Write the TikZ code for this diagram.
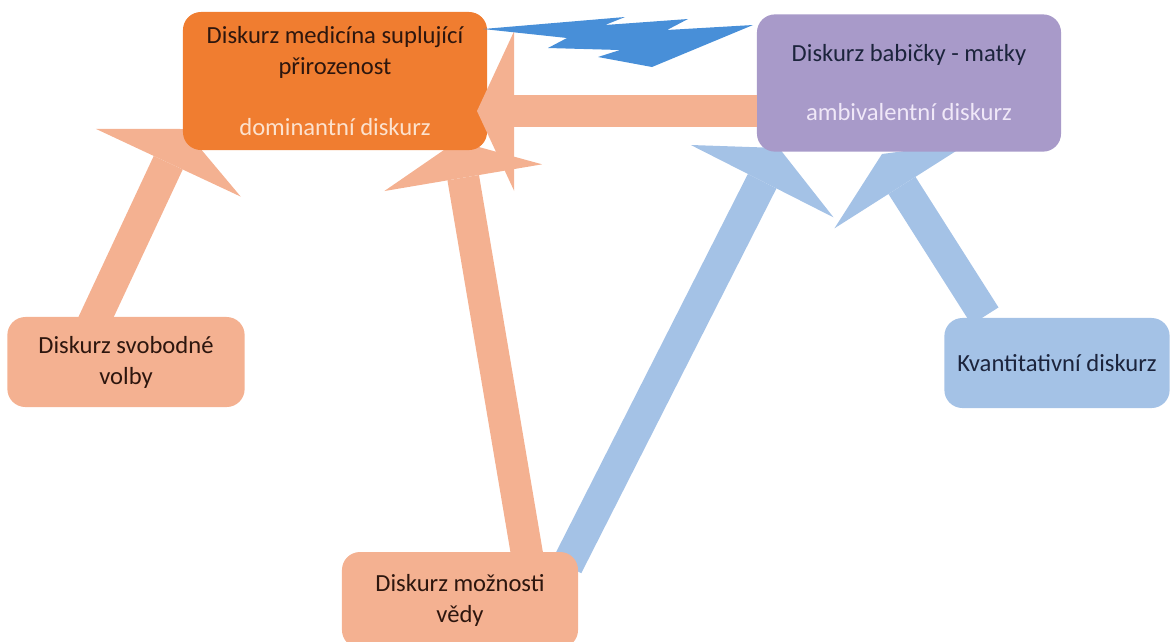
\documentclass[tikz,border=0pt]{standalone}
\usepackage{fontspec}
\setmainfont{Carlito}
\usetikzlibrary{arrows.meta,backgrounds}

\definecolor{medorange}{RGB}{240,125,48}
\definecolor{salmon}{RGB}{244,177,145}
\definecolor{lavender}{RGB}{168,154,201}
\definecolor{skyblue}{RGB}{164,194,230}
\definecolor{boltblue}{RGB}{72,143,216}
\definecolor{darktext}{RGB}{45,22,14}
\definecolor{navytext}{RGB}{28,36,60}
\definecolor{peach}{RGB}{252,226,206}
\definecolor{lilac}{RGB}{240,232,248}

\tikzset{
  box/.style={rounded corners=0.45cm,inner sep=0pt,align=center,
    font=\fontsize{17.5}{22}\selectfont,text=darktext},
  fatarrow/.style={line width=0.8cm,
    -{Triangle[width=4cm,length=0.93cm,line width=0pt]}},
}

\begin{document}
\begin{tikzpicture}[x=0.025cm,y=-0.025cm]

\useasboundingbox (0,0) rectangle (1171,641);

\node[box,fill=medorange,minimum width=7.6cm,minimum height=3.45cm] (med) at (335,81)
  {Diskurz medicína suplující\\přirozenost\\[0.73cm]\textcolor{peach}{dominantní diskurz}};
\node[box,fill=lavender,minimum width=7.6cm,minimum height=3.43cm,text=navytext] (bab) at (909,83)
  {Diskurz babičky - matky\\[0.7cm]\textcolor{lilac}{ambivalentní diskurz}};
\node[box,fill=salmon,minimum width=5.93cm,minimum height=2.25cm] (svo) at (126,362)
  {Diskurz svobodné\\volby};
\node[box,fill=skyblue,minimum width=5.63cm,minimum height=2.25cm,text=navytext] (kva) at (1057,363)
  {Kvantitativní diskurz};
\node[box,fill=salmon,minimum width=5.9cm,minimum height=2.4cm] (moz) at (460,600)
  {Diskurz možnosti\\vědy};

% ends of the fat arrows
\coordinate (svo-out) at (90,330);
\coordinate (moz-out1) at (528,560);
\coordinate (moz-out2) at (567,566);
\coordinate (kva-out) at (985,316);
\coordinate (bab-out) at (757,111);
\coordinate (med-in1) at (184,129);
\coordinate (med-in2) at (457,141);
\coordinate (med-in3) at (477,111);
\coordinate (bab-in1) at (779,148);
\coordinate (bab-in2) at (882,154);

\begin{scope}[on background layer]
\draw[fatarrow,salmon] (svo-out) -- (med-in1);
\draw[fatarrow,salmon] (moz-out1) -- (med-in2);
\draw[fatarrow,skyblue] (moz-out2) -- (bab-in1);
\draw[fatarrow,skyblue] (kva-out) -- (bab-in2);
\end{scope}

\draw[fatarrow,salmon] (bab-out) -- (med-in3);

% lightning between the two discourses
\fill[boltblue] (483,29) -- (625,17) -- (605,25) -- (688,19) -- (667,30) -- (753,25)
  -- (652,67) -- (598,57) -- (620,50) -- (548,48) -- (567,38) -- cycle;

\end{tikzpicture}
\end{document}
